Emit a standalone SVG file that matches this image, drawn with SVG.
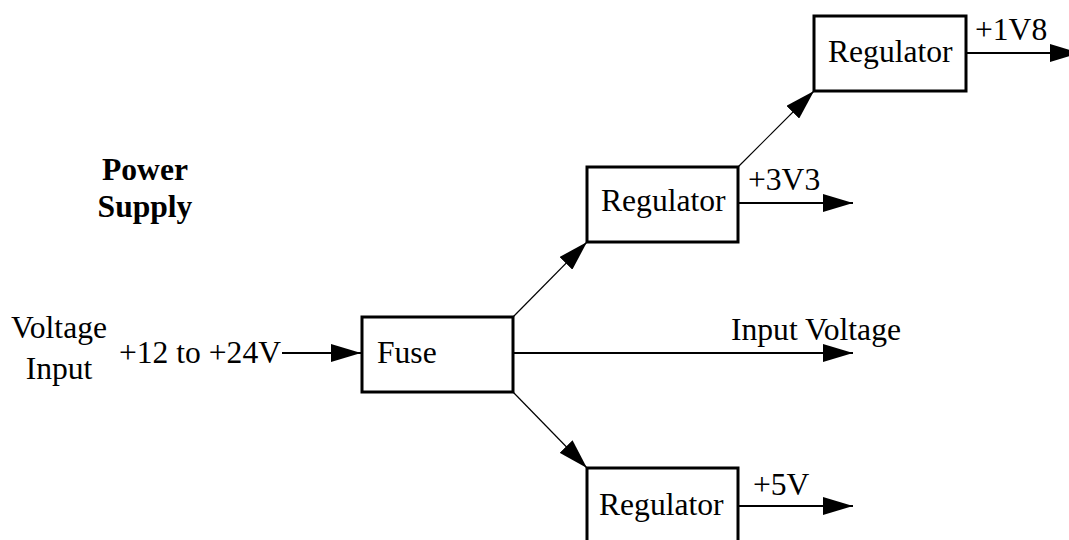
<svg xmlns="http://www.w3.org/2000/svg" width="1069" height="540" viewBox="0 0 1069 540">
<style>
.box{fill:#fff;stroke:#000;stroke-width:3}
.t{font-family:"Liberation Serif","Times New Roman",serif;font-size:31.6px;fill:#000}
.b{font-weight:bold}
.h{stroke:#000;stroke-width:2;fill:none}
.d{stroke:#000;stroke-width:1.2;fill:none}
</style>
<defs>
<marker id="ah" viewBox="0 0 30 18" refX="30" refY="9" markerWidth="30" markerHeight="18" markerUnits="userSpaceOnUse" orient="auto">
<path d="M0,0 L30,9 L0,18 z" fill="#000"/>
</marker>
</defs>
<rect width="1069" height="540" fill="#fff"/>
<g id="title">
<text class="t b" x="145" y="180" text-anchor="middle">Power</text>
<text class="t b" x="145" y="217" text-anchor="middle">Supply</text>
</g>
<g id="input-label">
<text class="t" x="59" y="338" text-anchor="middle">Voltage</text>
<text class="t" x="59" y="379" text-anchor="middle">Input</text>
</g>
<g id="connectors">
<line class="h" x1="282" y1="353" x2="361" y2="353" marker-end="url(#ah)"/>
<line class="h" x1="513" y1="353" x2="853" y2="353" marker-end="url(#ah)"/>
<line class="d" x1="513" y1="317" x2="587" y2="242" marker-end="url(#ah)"/>
<line class="d" x1="513" y1="392" x2="587" y2="468" marker-end="url(#ah)"/>
<line class="d" x1="738" y1="167" x2="814" y2="91" marker-end="url(#ah)"/>
<line class="h" x1="738" y1="203" x2="853" y2="203" marker-end="url(#ah)"/>
<line class="h" x1="966" y1="53" x2="1080" y2="53" marker-end="url(#ah)"/>
<line class="h" x1="738" y1="506" x2="853" y2="506" marker-end="url(#ah)"/>
<text class="t" x="119" y="363">+12 to +24V</text>
<text class="t" x="731" y="340">Input Voltage</text>
<text class="t" x="748" y="190">+3V3</text>
<text class="t" x="975" y="40">+1V8</text>
<text class="t" x="753" y="495">+5V</text>
</g>
<g id="fuse">
<rect class="box" x="362" y="317" width="151" height="75"/>
<text class="t" x="377" y="363">Fuse</text>
</g>
<g id="reg-3v3">
<rect class="box" x="587" y="167" width="151" height="75"/>
<text class="t" x="601" y="211">Regulator</text>
</g>
<g id="reg-1v8">
<rect class="box" x="814" y="16" width="152" height="75"/>
<text class="t" x="828" y="62">Regulator</text>
</g>
<g id="reg-5v">
<rect class="box" x="587" y="468" width="151" height="80"/>
<text class="t" x="599" y="515">Regulator</text>
</g>
</svg>
